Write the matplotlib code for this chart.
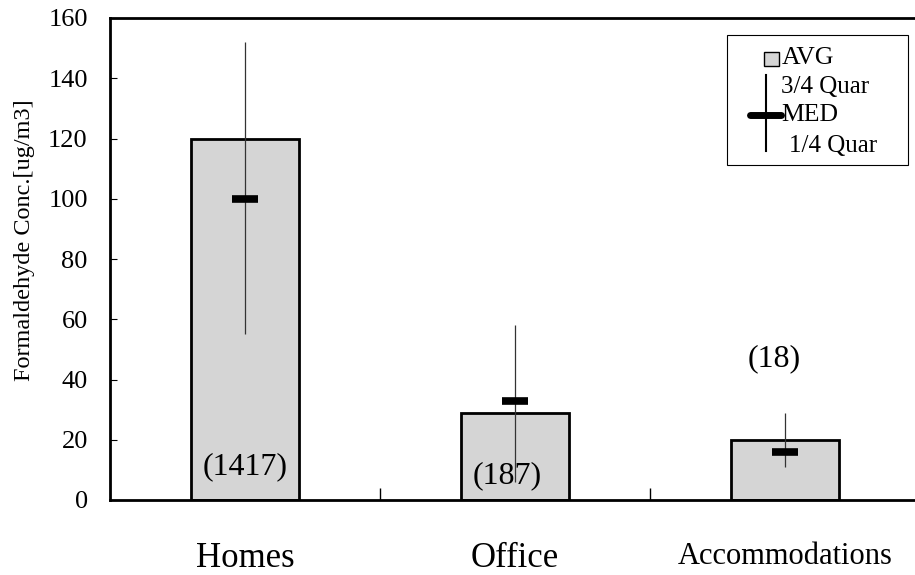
import matplotlib.pyplot as plt
from matplotlib.patches import Rectangle
from matplotlib.lines import Line2D

# formaldehyde survey summary per building type
categories = ["Homes", "Office", "Accommodations"]
avg_conc = [120, 29, 20]
med_conc = [100, 33, 16]
q3_conc = [152, 58, 29]
q1_conc = [55, 6, 11]
n_samples = ["(1417)", "(187)", "(18)"]
n_label_x = [0, 0.97, 1.96]
n_label_y = [11, 8, 47]

plt.rcParams['font.family'] = ['Liberation Serif', 'DejaVu Serif']

fig = plt.figure(figsize=(9.15, 5.75), dpi=100)
ax = fig.add_axes([110/915, 75/575, 810/915, 482/575])

x = range(len(categories))
ax.bar(x, avg_conc, width=0.4, color='#d5d5d5', edgecolor='black', linewidth=2, zorder=2)

# quartile range as thin line, median as thick dash
ax.vlines(x, q1_conc, q3_conc, color='#333333', linewidth=0.9, zorder=3)
ax.plot(x, med_conc, linestyle='none', marker='_', markersize=19, markeredgewidth=5.5,
        color='black', zorder=4)

for xl, txt, yl in zip(n_label_x, n_samples, n_label_y):
    ax.text(xl, yl, txt, ha='center', va='center', fontsize=23, zorder=5)

ax.set_xlim(-0.5, 2.5)
ax.set_ylim(0, 160)
ax.set_yticks(range(0, 161, 20))
ax.set_xticks(list(x))
ax.set_xticklabels(categories, fontsize=25)
ax.get_xticklabels()[2].set_fontsize(22)
ax.set_xticks([0.5, 1.5], minor=True)
ax.tick_params(axis='x', which='major', length=0, pad=30)
ax.tick_params(axis='x', which='minor', direction='in', length=9, width=1)
ax.tick_params(axis='y', direction='in', length=5, width=0.8, labelsize=19, pad=16)

ax.set_ylabel("Formaldehyde Conc.[ug/m3]", fontsize=17.5)
ax.yaxis.set_label_coords(-0.092, 0.54)

for side in ['left', 'top', 'bottom']:
    ax.spines[side].set_linewidth(2)
ax.spines['right'].set_visible(False)

# hand-built legend box
tr = ax.transAxes
ax.add_patch(Rectangle((0.762, 0.695), 0.223, 0.270, transform=tr, facecolor='white',
                       edgecolor='black', linewidth=0.8, zorder=6))
ax.add_patch(Rectangle((0.808, 0.900), 0.018, 0.030, transform=tr, facecolor='#d5d5d5',
                       edgecolor='black', linewidth=1, zorder=7))
ax.text(0.829, 0.917, "AVG", transform=tr, fontsize=18.5, va='center', zorder=7)
ax.add_line(Line2D([0.810, 0.810], [0.725, 0.882], transform=tr, color='black',
                   linewidth=1.5, zorder=7))
ax.add_line(Line2D([0.790, 0.829], [0.799, 0.799], transform=tr, color='black',
                   linewidth=5, solid_capstyle='round', zorder=7))
ax.text(0.829, 0.857, "3/4 Quar", transform=tr, fontsize=18, va='center', zorder=7)
ax.text(0.829, 0.799, "MED", transform=tr, fontsize=18.5, va='center', zorder=7)
ax.text(0.838, 0.735, "1/4 Quar", transform=tr, fontsize=18, va='center', zorder=7)

fig.savefig("out.png", dpi=100)
